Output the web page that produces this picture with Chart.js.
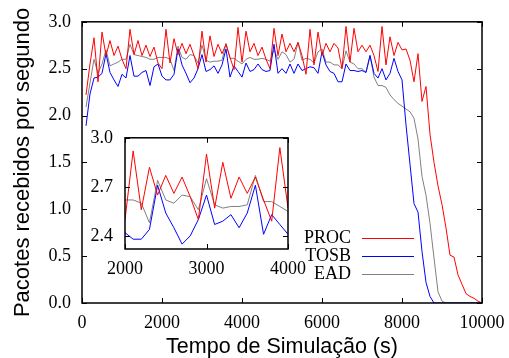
<!DOCTYPE html>
<html>
<head>
<meta charset="utf-8">
<script src="https://cdn.jsdelivr.net/npm/chart.js@4.4.0/dist/chart.umd.min.js"></script>
<style>
  html, body { margin: 0; padding: 0; background: #fff; }
  #wrap { position: relative; width: 509px; height: 358px; }
  #main { position: absolute; left: 0; top: 0; }
  #inset { position: absolute; left: 90px; top: 115px; }
</style>
</head>
<body>
<div id="wrap">
  <canvas id="main" width="509" height="358"></canvas>
  <canvas id="inset" width="220" height="159"></canvas>
</div>
<script>
/* ===== Dados ===== */
// amostras a cada 100 s, de 100 s a 10000 s
const tempos = Array.from({ length: 100 }, (_, i) => (i + 1) * 100);

const proc = [
  2.22, 2.55, 2.83, 2.36, 2.89, 2.64, 2.80, 2.64, 2.74, 2.60, 2.50, 2.92, 2.65, 2.80, 2.64, 2.75, 2.63, 2.73, 2.56,
  2.50, 2.92, 2.56, 2.82, 2.65, 2.77, 2.66, 2.76, 2.64, 2.50, 2.90, 2.57, 2.85, 2.63, 2.76, 2.66, 2.76, 2.62, 2.49, 2.94, 2.57,
  2.90, 2.68, 2.77, 2.64, 2.73, 2.60, 2.50, 2.93, 2.64, 2.87,
  2.68, 2.77, 2.68, 2.78, 2.64, 2.44, 2.92, 2.54, 2.89, 2.64, 2.77, 2.68, 2.77, 2.72, 2.50, 2.95, 2.57, 2.93, 2.68, 2.75, 2.68, 2.75, 2.64, 2.47, 2.95,
  2.54, 2.84, 2.64, 2.78, 2.70, 2.71, 2.59, 2.36, 2.66, 2.15, 2.31, 1.80, 1.50, 1.25, 1.05, 0.80, 0.51, 0.49, 0.30, 0.20, 0.10, 0.07, 0.05, 0.02, 0.00
];

const tosb = [
  1.89, 2.23, 2.40, 2.41, 2.45, 2.66, 2.46, 2.38, 2.31, 2.44, 2.40, 2.64, 2.42, 2.42, 2.46, 2.48, 2.32, 2.52, 2.55,
  2.42, 2.38, 2.38, 2.44, 2.71, 2.54, 2.45, 2.35, 2.40, 2.50, 2.65, 2.47, 2.49, 2.53, 2.45, 2.54, 2.71, 2.41, 2.53, 2.47, 2.41,
  2.56, 2.47, 2.49, 2.55, 2.49, 2.47, 2.48, 2.76, 2.45, 2.50,
  2.45, 2.55, 2.45, 2.55, 2.48, 2.50, 2.52, 2.51, 2.45, 2.68, 2.54, 2.47, 2.45, 2.36, 2.36, 2.55, 2.48, 2.48, 2.47, 2.48, 2.46, 2.64, 2.45, 2.40, 2.50,
  2.38, 2.45, 2.61, 2.47, 2.38, 1.90, 1.48, 1.06, 0.97, 0.55, 0.22, 0.07, 0, 0, 0, 0, 0, 0, 0, 0, 0, 0, 0, 0, 0
];

const ead = [
  2.09, 2.35, 2.60, 2.45, 2.55, 2.70, 2.53, 2.55, 2.57, 2.60, 2.60, 2.76, 2.65, 2.64, 2.63, 2.62, 2.60, 2.60, 2.62,
  2.62, 2.62, 2.60, 2.48, 2.74, 2.62, 2.60, 2.65, 2.64, 2.56, 2.75, 2.59, 2.57, 2.58, 2.58, 2.59, 2.77, 2.61, 2.61, 2.58, 2.55,
  2.60, 2.62, 2.60, 2.60, 2.61, 2.60, 2.58, 2.70, 2.60, 2.68,
  2.65, 2.57, 2.60, 2.78, 2.59, 2.61, 2.60, 2.56, 2.68, 2.71, 2.57, 2.57, 2.54, 2.54, 2.50, 2.69, 2.57, 2.55, 2.50, 2.50, 2.46, 2.64, 2.41, 2.32, 2.32,
  2.30, 2.22, 2.17, 2.13, 2.10, 2.07, 2.04, 1.97, 1.75, 1.35, 1.15, 0.85, 0.48, 0.12, 0.02, 0, 0, 0, 0, 0, 0, 0, 0, 0, 0
];

const seriesNames = ['PROC', 'TOSB', 'EAD'];
const seriesColors = ['#ff0000', '#0000ff', '#808080'];
const insetYTicks = [2.4, 2.7, 3.0];

const serif = '"Liberation Serif", "Times New Roman", serif';
const sans = '"Liberation Sans", Arial, sans-serif';

function toPoints(values) {
  return values.map((v, i) => ({ x: tempos[i], y: v }));
}

function buildDatasets() {
  return [proc, tosb, ead].map((vals, i) => ({
    label: seriesNames[i],
    data: toPoints(vals),
    borderColor: seriesColors[i],
    borderWidth: 1,
    pointRadius: 0,
    tension: 0,
    fill: false
  }));
}

/* ===== Plugins: moldura, ticks para dentro, legenda ===== */
const frameTicks = {
  id: 'frameTicks',
  beforeDraw(chart, args, opts) {
    if (!opts.bg) return;
    const a = chart.chartArea;
    chart.ctx.save();
    chart.ctx.fillStyle = '#fff';
    chart.ctx.fillRect(a.left, a.top, a.width, a.height);
    chart.ctx.restore();
  },
  afterDraw(chart, args, opts) {
    const { ctx, chartArea: a, scales: { x, y } } = chart;
    const len = opts.len || 5;
    ctx.save();
    ctx.strokeStyle = '#000';
    ctx.lineWidth = 1;
    ctx.beginPath();
    x.ticks.forEach(t => {
      const px = Math.round(x.getPixelForValue(t.value)) + 0.5;
      ctx.moveTo(px, a.bottom); ctx.lineTo(px, a.bottom - len);
      ctx.moveTo(px, a.top); ctx.lineTo(px, a.top + len);
    });
    y.ticks.forEach(t => {
      const py = Math.round(y.getPixelForValue(t.value)) + 0.5;
      ctx.moveTo(a.left, py); ctx.lineTo(a.left + len, py);
      ctx.moveTo(a.right, py); ctx.lineTo(a.right - len, py);
    });
    ctx.stroke();
    ctx.lineWidth = 1.5;
    ctx.strokeRect(a.left, a.top, a.width, a.height);
    ctx.restore();
  }
};

const keyBox = {
  id: 'keyBox',
  afterDraw(chart, args, opts) {
    if (!opts.show) return;
    const ctx = chart.ctx;
    ctx.save();
    ctx.font = '18px ' + serif;
    ctx.textAlign = 'right';
    ctx.textBaseline = 'middle';
    chart.data.datasets.forEach((ds, i) => {
      const yy = opts.y + i * opts.gap;
      ctx.fillStyle = '#000';
      ctx.fillText(ds.label, opts.textX, yy + 1);
      ctx.strokeStyle = ds.borderColor;
      ctx.lineWidth = 1;
      ctx.beginPath();
      ctx.moveTo(opts.lineX0, Math.round(yy) + 0.5);
      ctx.lineTo(opts.lineX1, Math.round(yy) + 0.5);
      ctx.stroke();
    });
    ctx.restore();
  }
};

const plainNum = v => String(v);
// tamanho fixo do eixo, sem folga extra para o último rótulo
const fixHeight = h => s => { s.height = h; s.paddingLeft = 0; s.paddingRight = 0; };

/* ===== Gráfico principal ===== */
new Chart(document.getElementById('main'), {
  type: 'line',
  data: { datasets: buildDatasets() },
  plugins: [frameTicks, keyBox],
  options: {
    responsive: false,
    animation: false,
    layout: { padding: { top: 21, right: 27, left: 0, bottom: 0 } },
    plugins: {
      legend: { display: false },
      tooltip: { enabled: false },
      frameTicks: { len: 5 },
      keyBox: { show: true, textX: 351, lineX0: 362, lineX1: 414, y: 237.5, gap: 18 }
    },
    scales: {
      x: {
        type: 'linear', min: 0, max: 10000,
        afterFit: fixHeight(55),
        grid: { display: false, drawTicks: false },
        border: { display: false },
        ticks: { stepSize: 2000, padding: 9, color: '#000', font: { family: serif, size: 18 },
                 maxRotation: 0, callback: plainNum },
        title: { display: true, text: 'Tempo de Simulação (s)', color: '#000',
                 font: { family: sans, size: 21.5, lineHeight: 1 }, padding: { top: 0, bottom: 0 } }
      },
      y: {
        min: 0, max: 3,
        afterFit: s => { s.width = 82; },
        grid: { display: false, drawTicks: false },
        border: { display: false },
        ticks: { stepSize: 0.5, padding: 11, color: '#000', font: { family: serif, size: 18 },
                 callback: v => v.toFixed(1) },
        title: { display: true, text: 'Pacotes recebidos por segundo', color: '#000',
                 font: { family: sans, size: 22, lineHeight: 1 }, padding: { top: 12, bottom: 0 } }
      }
    }
  }
});

/* ===== Detalhe (2000–4000 s) ===== */
new Chart(document.getElementById('inset'), {
  type: 'line',
  data: { datasets: buildDatasets() },
  plugins: [frameTicks],
  options: {
    responsive: false,
    animation: false,
    layout: { padding: { top: 11, right: 22, left: 0, bottom: 0 } },
    plugins: {
      legend: { display: false },
      tooltip: { enabled: false },
      frameTicks: { len: 5, bg: true }
    },
    scales: {
      x: {
        type: 'linear', min: 2000, max: 4000,
        afterFit: fixHeight(25),
        grid: { display: false, drawTicks: false },
        border: { display: false },
        ticks: { stepSize: 1000, padding: 9, color: '#000', font: { family: serif, size: 18 },
                 maxRotation: 0, callback: plainNum }
      },
      y: {
        min: 2.32, max: 3.0,
        afterFit: s => { s.width = 35; },
        afterBuildTicks: s => { s.ticks = insetYTicks.map(v => ({ value: v })); },
        grid: { display: false, drawTicks: false },
        border: { display: false },
        ticks: { padding: 12, color: '#000', font: { family: serif, size: 18 },
                 callback: v => v.toFixed(1) }
      }
    }
  }
});
</script>
</body>
</html>
